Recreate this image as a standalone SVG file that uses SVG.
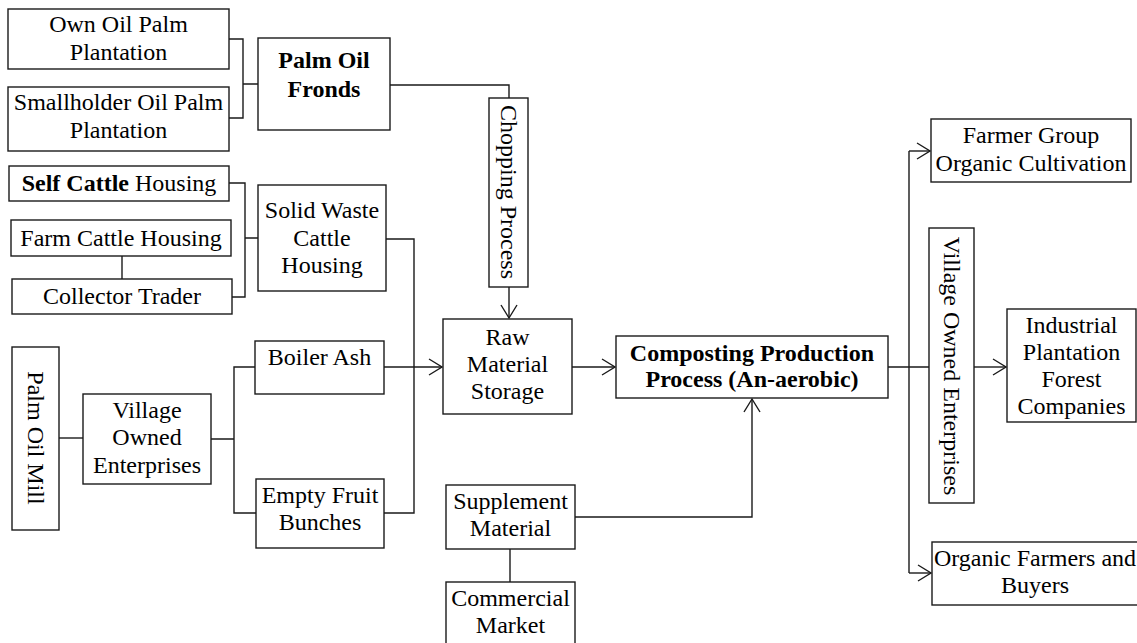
<svg xmlns="http://www.w3.org/2000/svg" width="1137" height="643" viewBox="0 0 1137 643">
<style>
.box{fill:#fff;stroke:#1a1a1a;stroke-width:1.4}
.t{font-family:"Liberation Serif","Times New Roman",serif;font-size:24px;fill:#000;text-anchor:middle}
.b{font-weight:bold}
.c{fill:none;stroke:#1a1a1a;stroke-width:1.4}
</style>
<defs>
<marker id="ah" viewBox="-14 -9 16 18" markerWidth="16" markerHeight="18" refX="0" refY="0" orient="auto" markerUnits="userSpaceOnUse">
<path d="M-13,-8 L0,0 L-13,8" fill="none" stroke="#1a1a1a" stroke-width="1.4"/>
</marker>
</defs>
<rect width="1137" height="643" fill="#fff"/>
<g id="connectors">
<path class="c" d="M229,39 H243 V118 H229 M243,84 H258"/>
<path class="c" d="M390,85 H509 V98"/>
<path class="c" d="M509,287 V318" marker-end="url(#ah)"/>
<path class="c" d="M229,183 H245 V297 H232 M245,238 H258"/>
<path class="c" d="M122,256 V279"/>
<path class="c" d="M386,239 H414 V513 H384"/>
<path class="c" d="M384,367 H442" marker-end="url(#ah)"/>
<path class="c" d="M59,438 H83"/>
<path class="c" d="M211,439 H234 M255,367 H234 V513 H256"/>
<path class="c" d="M572,367 H615" marker-end="url(#ah)"/>
<path class="c" d="M575,517 H752 V399" marker-end="url(#ah)"/>
<path class="c" d="M510,549 V582"/>
<path class="c" d="M888,367 H929 M909,151 V573"/>
<path class="c" d="M909,151 H930" marker-end="url(#ah)"/>
<path class="c" d="M909,573 H931" marker-end="url(#ah)"/>
<path class="c" d="M974,367 H1006" marker-end="url(#ah)"/>
</g>
<g id="own-oil-palm"><rect class="box" x="8" y="9" width="221" height="60"/><text class="t" x="118.5" y="32">Own Oil Palm</text><text class="t" x="118.5" y="60">Plantation</text></g>
<g id="smallholder"><rect class="box" x="8" y="87" width="221" height="64"/><text class="t" x="118.5" y="110">Smallholder Oil Palm</text><text class="t" x="118.5" y="138">Plantation</text></g>
<g id="palm-oil-fronds"><rect class="box" x="258" y="38" width="132" height="92"/><text class="t b" x="324" y="68">Palm Oil</text><text class="t b" x="324" y="97">Fronds</text></g>
<g id="chopping"><rect class="box" x="489" y="98" width="39" height="189"/><text class="t" x="509" y="200" transform="rotate(90 509 192)">Chopping Process</text></g>
<g id="self-cattle"><rect class="box" x="9" y="166" width="220" height="35"/><text class="t" x="119" y="191"><tspan class="b">Self Cattle</tspan> Housing</text></g>
<g id="farm-cattle"><rect class="box" x="11" y="220" width="220" height="36"/><text class="t" x="121" y="246">Farm Cattle Housing</text></g>
<g id="collector"><rect class="box" x="12" y="279" width="220" height="35"/><text class="t" x="122" y="304">Collector Trader</text></g>
<g id="solid-waste"><rect class="box" x="258" y="185" width="128" height="106"/><text class="t" x="322" y="218">Solid Waste</text><text class="t" x="322" y="246">Cattle</text><text class="t" x="322" y="273">Housing</text></g>
<g id="raw-material"><rect class="box" x="443" y="319" width="129" height="95"/><text class="t" x="507.5" y="345">Raw</text><text class="t" x="507.5" y="372">Material</text><text class="t" x="507.5" y="399">Storage</text></g>
<g id="composting"><rect class="box" x="616" y="336" width="272" height="62"/><text class="t b" x="752" y="361">Composting Production</text><text class="t b" x="752" y="387">Process (An-aerobic)</text></g>
<g id="palm-oil-mill"><rect class="box" x="12" y="347" width="47" height="183"/><text class="t" x="35.5" y="446" transform="rotate(90 35.5 438)">Palm Oil Mill</text></g>
<g id="voe-left"><rect class="box" x="83" y="394" width="128" height="90"/><text class="t" x="147" y="418">Village</text><text class="t" x="147" y="445">Owned</text><text class="t" x="147" y="473">Enterprises</text></g>
<g id="boiler-ash"><rect class="box" x="255" y="341" width="129" height="53"/><text class="t" x="319.5" y="365">Boiler Ash</text></g>
<g id="efb"><rect class="box" x="256" y="479" width="128" height="69"/><text class="t" x="320" y="503">Empty Fruit</text><text class="t" x="320" y="530">Bunches</text></g>
<g id="supplement"><rect class="box" x="446" y="485" width="129" height="64"/><text class="t" x="510.5" y="509">Supplement</text><text class="t" x="510.5" y="536">Material</text></g>
<g id="commercial"><rect class="box" x="446" y="582" width="129" height="70"/><text class="t" x="510.5" y="606">Commercial</text><text class="t" x="510.5" y="633">Market</text></g>
<g id="farmer-group"><rect class="box" x="931" y="119" width="200" height="63"/><text class="t" x="1031" y="143">Farmer Group</text><text class="t" x="1031" y="171">Organic Cultivation</text></g>
<g id="voe-right"><rect class="box" x="929" y="228" width="45" height="275"/><text class="t" x="951.5" y="374" transform="rotate(90 951.5 366)">Village Owned Enterprises</text></g>
<g id="industrial"><rect class="box" x="1007" y="309" width="129" height="113"/><text class="t" x="1071.5" y="333">Industrial</text><text class="t" x="1071.5" y="360">Plantation</text><text class="t" x="1071.5" y="387">Forest</text><text class="t" x="1071.5" y="414">Companies</text></g>
<g id="organic-farmers"><rect class="box" x="932" y="542" width="215" height="63"/><text class="t" x="1035" y="566">Organic Farmers and</text><text class="t" x="1035" y="593">Buyers</text></g>
</svg>
